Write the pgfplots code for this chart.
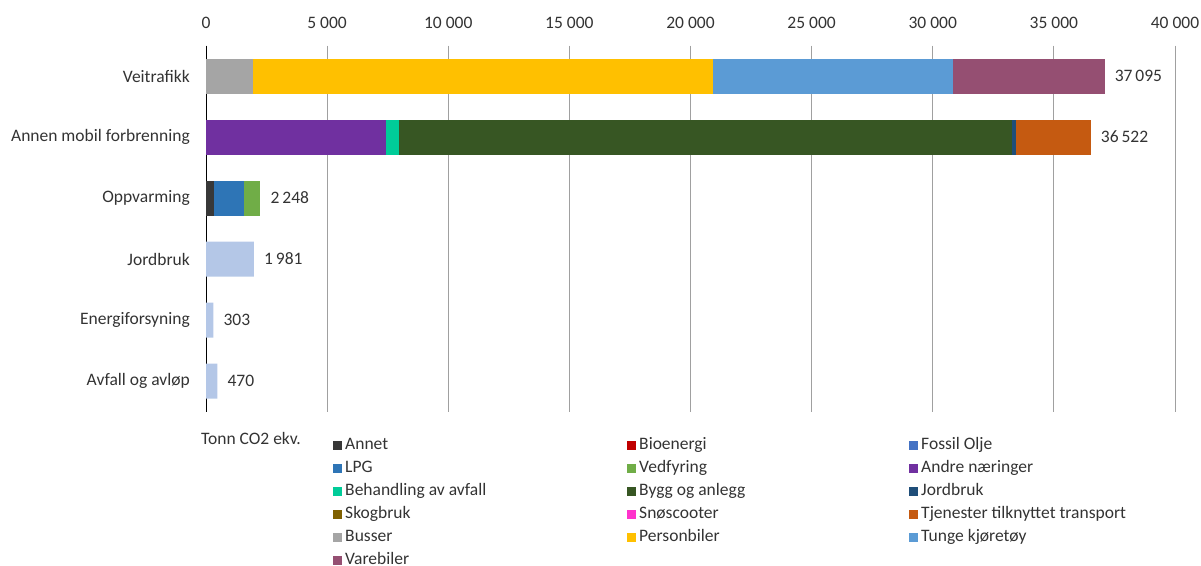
\documentclass[border=0pt]{standalone}
\usepackage{fontspec}
\setmainfont{Carlito}
\usepackage{pgfplots}
\usepackage{pgfplotstable}
\pgfplotsset{compat=1.18}

\definecolor{cAnnet}{HTML}{383838}
\definecolor{cBio}{HTML}{C00000}
\definecolor{cFossil}{HTML}{4472C4}
\definecolor{cLPG}{HTML}{2E75B6}
\definecolor{cVed}{HTML}{70AD47}
\definecolor{cAndre}{HTML}{7030A0}
\definecolor{cBeh}{HTML}{00CC99}
\definecolor{cBygg}{HTML}{375623}
\definecolor{cJord}{HTML}{1F4E79}
\definecolor{cSkog}{HTML}{7F6000}
\definecolor{cSno}{HTML}{FF33CC}
\definecolor{cTjen}{HTML}{C55A11}
\definecolor{cBusser}{HTML}{A5A5A5}
\definecolor{cPerson}{HTML}{FFC000}
\definecolor{cTunge}{HTML}{5B9BD5}
\definecolor{cVare}{HTML}{954F72}
\definecolor{cOther}{HTML}{B4C7E7}
\definecolor{txt}{HTML}{333333}
\definecolor{cgrid}{HTML}{A0A0A0}

\newcommand\la[1]{\makebox[279pt][l]{#1}}
\newcommand\lb[1]{\makebox[267pt][l]{#1}}

\pgfplotstableread{
row Annet Bio Fossil LPG Ved Andre Beh Bygg Jord Skog Sno Tjen Busser Person Tunge Vare Other
0 0 0 0 0 0 0 0 0 0 0 0 0 1950 18980 9890 6275 0
1 0 0 0 0 0 7450 520 25300 180 0 0 3072 0 0 0 0 0
2 320 0 0 1250 678 0 0 0 0 0 0 0 0 0 0 0 0
3 0 0 0 0 0 0 0 0 0 0 0 0 0 0 0 0 1981
4 0 0 0 0 0 0 0 0 0 0 0 0 0 0 0 0 303
5 0 0 0 0 0 0 0 0 0 0 0 0 0 0 0 0 470
}\data

\pgfplotstableread{
total row label
37095 0 {37\,095}
36522 1 {36\,522}
2248 2 {2\,248}
1981 3 {1\,981}
303 4 {303}
470 5 {470}
}\totals

\pgfplotsset{
  common/.style={
    at={(206pt,153.5pt)}, anchor=south west,
    scale only axis, width=969pt, height=366pt,
    xmin=0, xmax=40000,
    ymin=-0.5, ymax=5.5, y dir=reverse,
  }
}

\begin{document}
\begin{tikzpicture}[x=1pt,y=1pt,font=\fontsize{17.5}{21}\selectfont]
\useasboundingbox (0,0) rectangle (1201,565);
\begin{axis}[
  common,
  xbar stacked, bar width=35pt,
  ytick={0,...,5},
  yticklabels={Veitrafikk,Annen mobil forbrenning,Oppvarming,Jordbruk,Energiforsyning,Avfall og avløp},
  xtick={0,5000,...,40000},
  scaled x ticks=false,
  xticklabel pos=upper,
  /pgf/number format/.cd, 1000 sep={\ }, assume math mode=true, /pgfplots/.cd,
  major tick length=0pt,
  xmajorgrids, ymajorgrids=false,
  major x grid style={cgrid, line width=0.9pt},
  axis x line*=top, axis y line*=left,
  x axis line style={draw=none},
  y axis line style={black, line width=1pt},
  every axis plot/.append style={draw=none},
  tick label style={text=txt, inner sep=0pt},
  xticklabel style={anchor=south, yshift=17pt},
  yticklabel style={anchor=east, xshift=-16pt},
  legend columns=3,
  legend image code/.code={\fill[#1] (0pt,-4.5pt) rectangle (9pt,4.5pt);},
  legend style={at={(axis description cs:0.1311,-0.0700)}, anchor=north west,
    draw=none, fill=none, inner sep=0pt, row sep=7pt, column sep=3pt,
    nodes={inner sep=0pt, text height=12.5pt, text depth=3.5pt, text=txt, anchor=west}},
  legend cell align=left,
  clip=false,
]
\addplot[fill=cAnnet] table[x=Annet,y=row]{\data};\addlegendentry{\la{Annet}}
\addplot[fill=cBio] table[x=Bio,y=row]{\data};\addlegendentry{\lb{Bioenergi}}
\addplot[fill=cFossil] table[x=Fossil,y=row]{\data};\addlegendentry{Fossil Olje}
\addplot[fill=cLPG] table[x=LPG,y=row]{\data};\addlegendentry{\la{LPG}}
\addplot[fill=cVed] table[x=Ved,y=row]{\data};\addlegendentry{\lb{Vedfyring}}
\addplot[fill=cAndre] table[x=Andre,y=row]{\data};\addlegendentry{Andre næringer}
\addplot[fill=cBeh] table[x=Beh,y=row]{\data};\addlegendentry{\la{Behandling av avfall}}
\addplot[fill=cBygg] table[x=Bygg,y=row]{\data};\addlegendentry{\lb{Bygg og anlegg}}
\addplot[fill=cJord] table[x=Jord,y=row]{\data};\addlegendentry{Jordbruk}
\addplot[fill=cSkog] table[x=Skog,y=row]{\data};\addlegendentry{\la{Skogbruk}}
\addplot[fill=cSno] table[x=Sno,y=row]{\data};\addlegendentry{\lb{Snøscooter}}
\addplot[fill=cTjen] table[x=Tjen,y=row]{\data};\addlegendentry{Tjenester tilknyttet transport}
\addplot[fill=cBusser] table[x=Busser,y=row]{\data};\addlegendentry{\la{Busser}}
\addplot[fill=cPerson] table[x=Person,y=row]{\data};\addlegendentry{\lb{Personbiler}}
\addplot[fill=cTunge] table[x=Tunge,y=row]{\data};\addlegendentry{Tunge kjøretøy}
\addplot[fill=cVare] table[x=Vare,y=row]{\data};\addlegendentry{\la{Varebiler}}
\addplot[fill=cOther] table[x=Other,y=row]{\data};
\node[anchor=base west, inner sep=0pt, text=txt] at (axis description cs:-0.0052,-0.0915) {Tonn CO2 ekv.};
\end{axis}
\begin{axis}[
  common, hide axis, clip=false,
]
\addplot[only marks, mark=none, point meta=explicit symbolic,
  nodes near coords, every node near coord/.style={anchor=west, inner sep=0pt, xshift=10pt, text=txt, font=\fontsize{17.5}{21}\selectfont}]
  table[x=total, y=row, meta=label]{\totals};
\end{axis}
\end{tikzpicture}
\end{document}
